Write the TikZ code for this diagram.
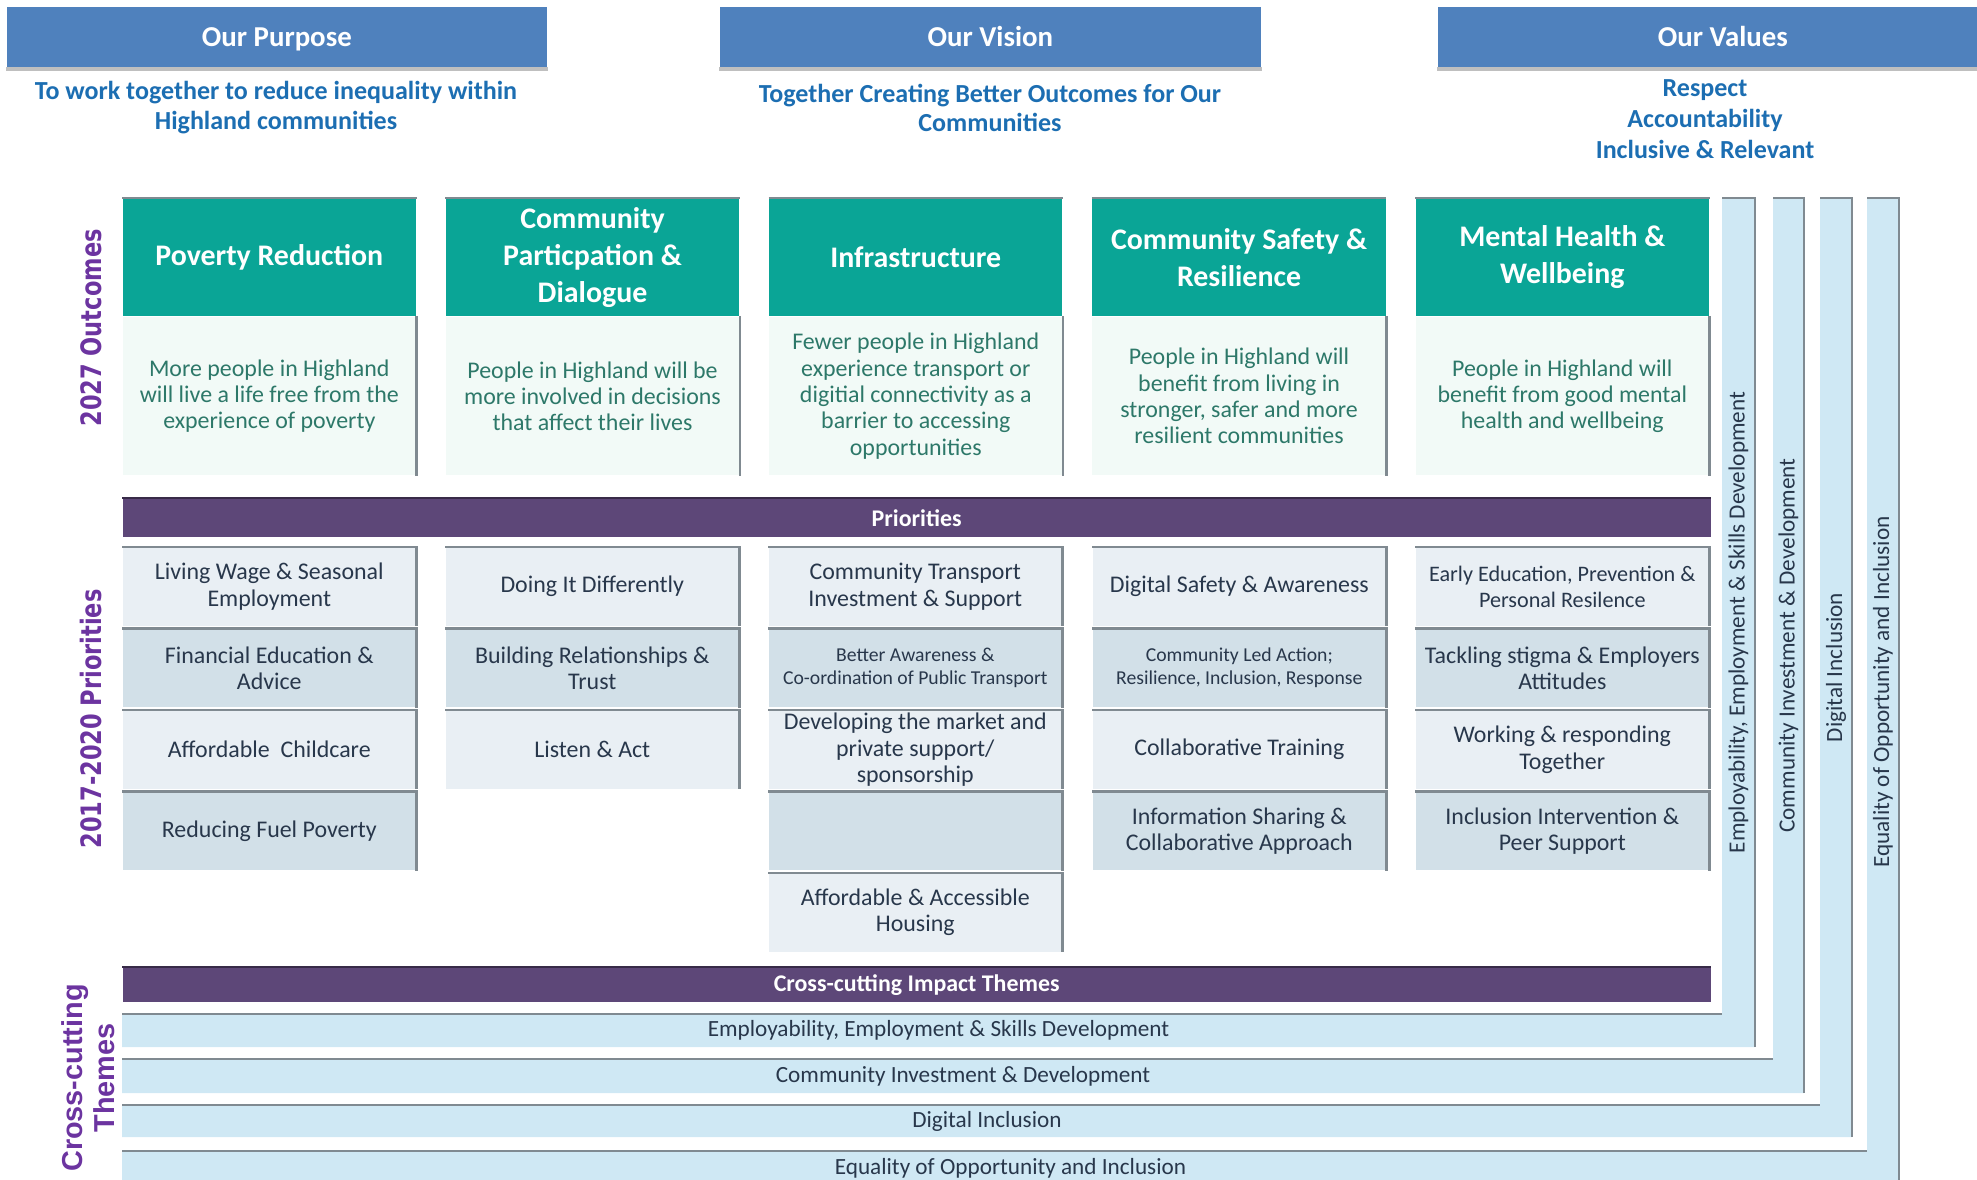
\documentclass[tikz,border=0pt]{standalone}
\usepackage{fontspec}
\setmainfont{Carlito}
\newfontfamily\sidefont{DejaVu Sans}
\newfontfamily\crossfont{Liberation Sans}
\usepackage{tikz}
\usetikzlibrary{positioning}
\usetikzlibrary{calc}
\definecolor{hdrblue}{RGB}{79,129,189}
\definecolor{stmtblue}{RGB}{28,110,178}
\definecolor{outteal}{RGB}{10,165,150}
\definecolor{outmint}{RGB}{242,250,247}
\definecolor{outtext}{RGB}{45,120,105}
\definecolor{barpurple}{RGB}{93,71,120}
\definecolor{prioA}{RGB}{233,239,244}
\definecolor{prioB}{RGB}{210,224,232}
\definecolor{priotext}{RGB}{40,55,75}
\definecolor{bandblue}{RGB}{207,232,244}
\definecolor{edgegrey}{RGB}{128,138,145}
\definecolor{lblpurple}{RGB}{108,52,160}

\begin{document}
\begin{tikzpicture}[x=0.01cm,y=-0.01cm,
		hdr/.style={anchor=north west,fill=hdrblue,text=white,inner sep=0pt,minimum height=0.6cm,
			text height=1.6ex,text depth=0.45ex,font=\fontsize{8.2}{9}\selectfont\bfseries},
		stmt/.style={text=stmtblue,align=center,inner sep=0pt,font=\fontsize{7.4}{8.5}\selectfont\bfseries},
		outhead/.style={anchor=north west,fill=outteal,text=white,align=center,inner sep=0pt,
			minimum width=2.93cm,minimum height=1.17cm,font=\fontsize{8.5}{10.5}\selectfont\bfseries},
		outbody/.style={fill=outmint,text=outtext,align=center,inner sep=0pt,
			minimum width=2.93cm,minimum height=1.58cm,font=\fontsize{6.8}{7.5}\selectfont},
		bar/.style={anchor=north west,fill=barpurple,text=white,inner sep=0pt,minimum width=15.87cm,
			font=\fontsize{6.8}{8}\selectfont\bfseries},
		pbox/.style={fill=prioA,text=priotext,align=center,inner sep=0pt,
			minimum width=2.93cm,minimum height=0.78cm,font=\fontsize{6.8}{7.5}\selectfont},
		pdark/.style={pbox,fill=prioB},
		small/.style={font=\fontsize{5.6}{6.5}\selectfont},
		edge/.style={draw=edgegrey,line width=0.7pt},
		bandtxt/.style={text=priotext,inner sep=0pt,font=\fontsize{6.6}{8}\selectfont},
		sidelbl/.style={rotate=90,text=lblpurple,inner sep=0pt,font=\sidefont\fontsize{8}{9}\selectfont\bfseries}]
		\useasboundingbox (0,0) rectangle (1977,1180);
		\clip (0,0) rectangle (1977,1180);

		\node[hdr,minimum width=5.40cm] (purpose) at (6,6) {Our Purpose};
		\node[hdr,minimum width=5.41cm] (vision) at (719,6) {Our Vision};
		\node[hdr,minimum width=5.70cm] (values) at (1437,6) {Our Values};
		\foreach \n in {purpose,vision,values}
			\draw[draw=black!25,line width=1pt] ([yshift=-0.5pt]\n.south west) -- ([yshift=-0.5pt]\n.south east);

		\node[stmt] (purposetxt) at (276,108) {To work together to reduce inequality within\\Highland communities};
		\node[stmt] (visiontxt) at (990,108) {Together Creating Better Outcomes for Our\\Communities};
		\node[stmt,font=\fontsize{7.4}{8.8}\selectfont\bfseries] (valuestxt) at (1705,119) {Respect\\Accountability\\Inclusive \& Relevant};

		\foreach \i/\ttl/\txt in {
			0/{Poverty Reduction}/{More people in Highland\\will live a life free from the\\experience of poverty},
			1/{Community\\Particpation \&\\Dialogue}/{People in Highland will be\\more involved in decisions\\that affect their lives},
			2/{Infrastructure}/{Fewer people in Highland\\experience transport or\\digitial connectivity as a\\barrier to accessing\\opportunities},
			3/{Community Safety \&\\Resilience}/{People in Highland will\\benefit from living in\\stronger, safer and more\\resilient communities},
			4/{Mental Health \&\\Wellbeing}/{People in Highland will\\benefit from good mental\\health and wellbeing}} {
			\node[outhead] (out\i) at ({122+323.25*\i},198) {\ttl};
			\node[outbody,below=0pt of out\i] (res\i) {\txt};
			\draw[edge] (out\i.north west) -- (out\i.north east);
			\draw[edge] (res\i.north east) -- (res\i.south east);
		}

		\node[bar,minimum height=0.38cm] (prio) at (122,498) {Priorities};
		\node[bar,minimum height=0.34cm] (cross) at (122,967) {Cross-cutting Impact Themes};
		\foreach \n in {prio,cross}
			\draw[draw=barpurple!60!black,line width=0.6pt] (\n.north west) -- (\n.north east);

		\node[pbox,anchor=north west] (p11) at (122,547) {Living Wage \& Seasonal\\Employment};
		\node[pdark,below=0.02cm of p11] (p12) {Financial Education \&\\Advice};
		\node[pbox,below=0.02cm of p12] (p13) {Affordable\ \ Childcare};
		\node[pdark,below=0.02cm of p13] (p14) {Reducing Fuel Poverty};

		\node[pbox,anchor=north west] (p21) at (445,547) {Doing It Differently};
		\node[pdark,below=0.02cm of p21] (p22) {Building Relationships \&\\Trust};
		\node[pbox,below=0.02cm of p22] (p23) {Listen \& Act};

		\node[pbox,anchor=north west] (p31) at (768,547) {Community Transport\\Investment \& Support};
		\node[pdark,small,below=0.02cm of p31] (p32) {Better Awareness \&\\Co-ordination of Public Transport};
		\node[pbox,below=0.02cm of p32] (p33) {Developing the market and\\private support/\\sponsorship};
		\node[pdark,below=0.02cm of p33] (p34) {};
		\node[pbox,below=0.02cm of p34] (p35) {Affordable \& Accessible\\Housing};

		\node[pbox,anchor=north west] (p41) at (1092,547) {Digital Safety \& Awareness};
		\node[pdark,small,below=0.02cm of p41] (p42) {Community Led Action;\\Resilience, Inclusion, Response};
		\node[pbox,below=0.02cm of p42] (p43) {Collaborative Training};
		\node[pdark,below=0.02cm of p43] (p44) {Information Sharing \&\\Collaborative Approach};

		\node[pbox,anchor=north west,font=\fontsize{6.3}{7.5}\selectfont] (p51) at (1415,547) {Early Education, Prevention \&\\Personal Resilence};
		\node[pdark,below=0.02cm of p51] (p52) {Tackling stigma \& Employers\\Attitudes};
		\node[pbox,below=0.02cm of p52] (p53) {Working \& responding\\Together};
		\node[pdark,below=0.02cm of p53] (p54) {Inclusion Intervention \&\\Peer Support};

		\foreach \n in {p11,p12,p13,p14,p21,p22,p23,p31,p32,p33,p34,p35,p41,p42,p43,p44,p51,p52,p53,p54}
			\draw[edge] (\n.north west) -- (\n.north east) -- (\n.south east);

		\foreach \k/\T/\B/\L/\R/\txt in {
			1/1014/1047/1722/1755/{Employability, Employment \& Skills Development},
			2/1059/1093/1773/1804/{Community Investment \& Development},
			3/1105/1137/1820/1852/{Digital Inclusion},
			4/1151/1186/1867/1899/{Equality of Opportunity and Inclusion}} {
			\fill[bandblue] (122,\T) -- (\L,\T) -- (\L,198) -- (\R,198) -- (\R,\B) -- (122,\B) -- cycle;
			\draw[edge] (122,\T) -- (\L,\T) (\L,198) -- (\R,198) -- (\R,\B);
			\node[bandtxt] (hband\k) at ({(122+\R)/2},{(\T+\B)/2}) {\txt};
			\node[bandtxt,rotate=90] (vband\k) at ({(\L+\R)/2},{(198+\B)/2}) {\txt};
		}

		\node[sidelbl] (outlbl) at (91,328) {\scalebox{0.8}[1]{2027 Outcomes}};
		\node[sidelbl] (priolbl) at (91,719) {\scalebox{0.8}[1]{2017-2020 Priorities}};
		\node[sidelbl,align=center,font=\crossfont\fontsize{8.2}{9.1}\selectfont\bfseries] (crosslbl) at (88,1078) {Cross-cutting\\Themes};
\end{tikzpicture}
\end{document}
